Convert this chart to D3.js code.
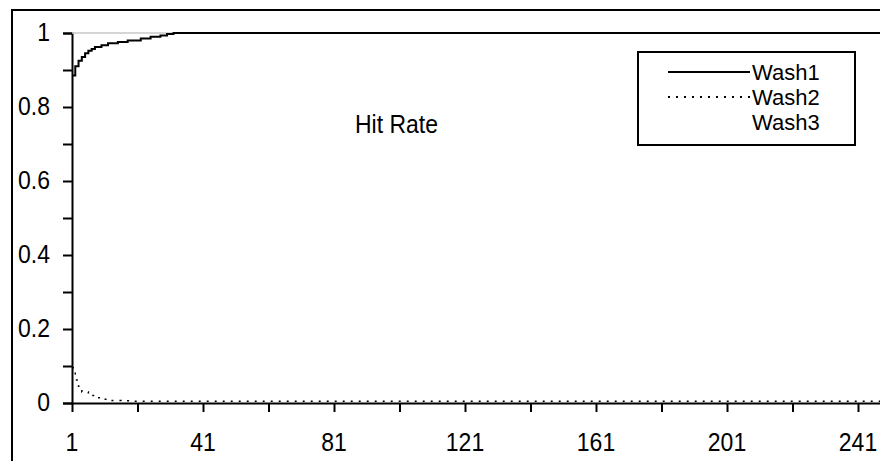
<!DOCTYPE html>
<html>
<head>
<meta charset="utf-8">
<script src="https://cdn.jsdelivr.net/npm/d3@7"></script>
<style>
  body { margin: 0; background: #fff; }
  svg { display: block; }
  text { font-family: "Liberation Sans", Arial, sans-serif; fill: #000; }
</style>
</head>
<body>
<div id="chart"></div>
<script>
// data (x = sample index, y = hit rate)
var wash1X = [1, 2, 3, 4, 5, 6, 7, 8, 10, 12, 15, 18, 22, 25, 28, 30, 32, 250];
var wash1Y = [0.885, 0.91, 0.925, 0.935, 0.945, 0.952, 0.957, 0.962, 0.967, 0.972, 0.976, 0.98, 0.985, 0.99, 0.993, 0.997, 1.0, 1.0];
var wash2X = [1, 2, 3, 4, 6, 8, 10, 12, 16, 20, 30, 250];
var wash2Y = [0.095, 0.062, 0.045, 0.03, 0.02, 0.014, 0.01, 0.007, 0.006, 0.005, 0.005, 0.004];
var wash3X = [1, 250];
var wash3Y = [1.0, 1.0];
var seriesNames = ["Wash1", "Wash2", "Wash3"];
var xTickLabels = [1, 41, 81, 121, 161, 201, 241];
var yTickLabels = [0, 0.2, 0.4, 0.6, 0.8, 1];

var width = 880, height = 461;

var svg = d3.select("#chart").append("svg")
    .attr("width", width)
    .attr("height", height);

var x = d3.scaleLinear().domain([1, 250]).range([72, 72 + 249 * 3.275]);
var y = d3.scaleLinear().domain([0, 1]).range([403, 33]);

// outer frame (runs off the right and bottom edges)
svg.append("rect")
    .attr("x", 12).attr("y", 10)
    .attr("width", 900).attr("height", 500)
    .attr("fill", "none")
    .attr("stroke", "#000")
    .attr("stroke-width", 2);

// stretched text helper, the scan has tall glyphs
function label(g, tx, ty, str, anchor, size, sy) {
    g.append("text")
        .attr("transform", "translate(" + tx + "," + ty + ") scale(1," + (sy || 1.15) + ")")
        .attr("text-anchor", anchor || "start")
        .style("font-size", (size || 23) + "px")
        .text(str);
}

// y axis: major + minor ticks
var yAxis = d3.axisLeft(y)
    .tickValues(d3.range(0, 11).map(function (i) { return i / 10; }))
    .tickSize(9)
    .tickFormat("");
svg.append("g")
    .attr("transform", "translate(" + x(1) + ",0)")
    .call(yAxis)
    .call(function (g) {
        g.select(".domain").attr("stroke-width", 2);
        g.selectAll(".tick line").attr("stroke-width", 2);
    });

yTickLabels.forEach(function (v) {
    label(svg, 50, y(v) + 8, String(v), "end");
});

// x axis
var xAxis = d3.axisBottom(x)
    .tickValues(d3.range(1, 251, 20))
    .tickSize(9)
    .tickSizeOuter(0)
    .tickFormat("");
svg.append("g")
    .attr("transform", "translate(0," + y(0) + ")")
    .call(xAxis)
    .call(function (g) {
        g.select(".domain").attr("stroke-width", 2);
        g.selectAll(".tick line").attr("stroke-width", 2);
    });

xTickLabels.forEach(function (v) {
    label(svg, x(v), 451, String(v), "middle");
});

// series
function toPoints(xs, ys) {
    return xs.map(function (d, i) { return [d, ys[i]]; });
}
var line = d3.line()
    .x(function (d) { return x(d[0]); })
    .y(function (d) { return y(d[1]); })
    .curve(d3.curveStepAfter);

svg.append("path")
    .datum(toPoints(wash3X, wash3Y))
    .attr("d", line)
    .attr("fill", "none")
    .attr("stroke", "#c8c8c8")
    .attr("stroke-width", 1.5);

svg.append("path")
    .datum(toPoints(wash1X, wash1Y))
    .attr("d", line)
    .attr("fill", "none")
    .attr("stroke", "#000")
    .attr("stroke-width", 2);

svg.append("path")
    .datum(toPoints(wash2X, wash2Y))
    .attr("d", line)
    .attr("fill", "none")
    .attr("stroke", "#000")
    .attr("stroke-width", 1.5)
    .attr("stroke-dasharray", "2,6");

// title inside plot
label(svg, 355, 133, "Hit Rate");

// legend
var legend = svg.append("g");
legend.append("rect")
    .attr("x", 638).attr("y", 52)
    .attr("width", 217).attr("height", 93)
    .attr("fill", "#fff")
    .attr("stroke", "#000")
    .attr("stroke-width", 2);

var legendStyles = [
    { stroke: "#000", dash: null },
    { stroke: "#000", dash: "2,6" },
    { stroke: "#fff", dash: null }
];
seriesNames.forEach(function (name, i) {
    var ly = 72 + i * 25;
    legend.append("line")
        .attr("x1", 668).attr("x2", 750)
        .attr("y1", ly).attr("y2", ly)
        .attr("stroke", legendStyles[i].stroke)
        .attr("stroke-width", 2)
        .attr("stroke-dasharray", legendStyles[i].dash);
    label(legend, 752, ly + 8, name, "start", 22, 1);
});
</script>
</body>
</html>
